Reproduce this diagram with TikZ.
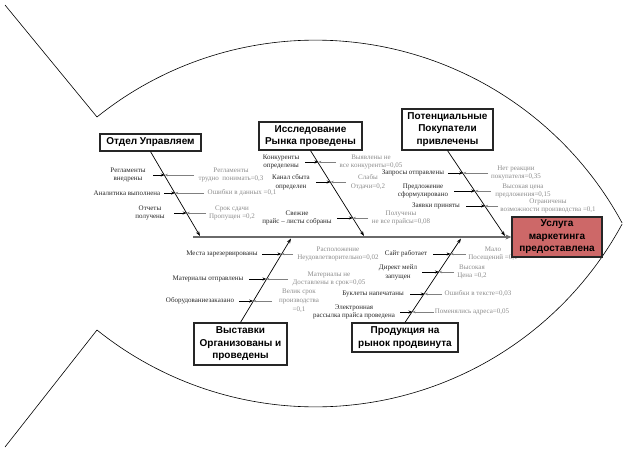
\documentclass[tikz,border=0pt]{standalone}
\usepackage{fontspec}
\setmainfont{Liberation Serif}
\newfontfamily\hd{Liberation Sans}
\usetikzlibrary{arrows.meta,calc}
\definecolor{headred}{HTML}{CD6868}
\definecolor{gtext}{HTML}{8C8C8C}
\definecolor{gline}{HTML}{808080}
\definecolor{spinec}{HTML}{6A6A6A}
\tikzset{
  fish/.style={draw=black,line width=0.6pt},
  lbl/.style={font=\fontsize{7}{8.8}\selectfont,align=center,inner sep=0pt,text=black!85},
  glbl/.style={font=\fontsize{7}{8.8}\selectfont,align=center,inner sep=0pt,text=gtext},
  cat/.style={draw=black!85,line width=1.2pt,fill=white,font=\hd\bfseries\fontsize{10}{12.5}\selectfont,align=center,inner sep=0pt},
  bone/.style={draw=black,line width=0.7pt,-{Stealth[length=5pt,width=3.5pt]}},
  blk/.style={draw=black,line width=0.8pt,-{Stealth[length=4pt,width=3pt]}},
  gry/.style={draw=gline,line width=0.6pt,-{Stealth[length=3pt,width=2.5pt]}},
  spine/.style={draw=spinec,line width=2.2pt,-{Stealth[length=6pt,width=5pt,fill=black]}},
}
\newcommand\cz[9]{%
  \node[lbl] (L#1) at (#3,#2) {#4};
  \coordinate (p#1) at (#6,#2);
  \coordinate (a#1) at (#5,#2);
  \coordinate (g#1) at (#7,#2);
  \draw[blk] (a#1) -- (p#1);
  \draw[gry] (g#1) -- (p#1);
  \node[glbl] (G#1) at (#8,#2) {#9};
}
\begin{document}
\begin{tikzpicture}[x=1pt,y=-1pt]
\useasboundingbox (0,0) rectangle (624,450);
% fish outline
\draw[fish] (5,5) -- (97,117);
\draw[fish] plot[domain=128.8:28.4,samples=90] ({315.4+348.7*cos(\x)},{388.8-348.7*sin(\x)});
\draw[fish] plot[domain=28.4:128.8,samples=90] ({315.4+348.7*cos(\x)},{58.2+348.7*sin(\x)});
\draw[fish] (97,330) -- (5,447);
% category boxes
\node[cat,minimum width=101pt,minimum height=17pt] (b1) at (150.5,142.5) {Отдел Управляем};
\node[cat,minimum width=103pt,minimum height=28pt] (b2) at (310.5,136) {Исследование\\Рынка проведены};
\node[cat,minimum width=91pt,minimum height=41pt] (b3) at (447.5,129.5) {Потенциальные\\Покупатели\\привлечены};
\node[cat,minimum width=93pt,minimum height=42pt] (b4) at (240.5,344) {Выставки\\Организованы и\\проведены};
\node[cat,minimum width=106pt,minimum height=29pt] (b5) at (405,337.5) {Продукция на\\рынок продвинута};
% bone ends
\coordinate (e1) at (200,236);
\coordinate (e2) at (364,236);
\coordinate (e3) at (505,236);
\coordinate (e4) at (291,238.5);
\coordinate (e5) at (461,238.5);
\draw[bone] (b1.south) -- (e1);
\draw[bone] (b2.south) -- (e2);
\draw[bone] (b3.south) -- (e3);
\draw[bone] (b4.north) -- (e4);
\draw[bone] (b5.north) -- (e5);
% causes bone 1
\cz{11}{175}{128}{Регламенты\\внедрены}{153}{164.8}{194}{231}{Регламенты\\трудно\ \ понимать=0,3}
\cz{12}{193}{127}{Аналитика выполнена}{164}{175.2}{204}{242}{Ошибки в данных =0,1}
\cz{13}{213}{150}{Отчеты\\получены}{174}{186.7}{206}{232}{Срок сдачи\\Пропущен =0,2}
% bone 2
\cz{21}{162}{281}{Конкуренты\\определены}{305}{318.4}{336}{371}{Выявлены не\\все конкуренты=0,05}
\cz{22}{182}{291}{Канал сбыта\\определен}{316}{330.7}{346}{368}{Слабы\\Отдачи=0,2}
\cz{23}{218}{297}{Свежие\\прайс – листы собраны}{337}{352.9}{368}{401}{Получены\\не все прайсы=0,08}
% bone 3
\cz{31}{173}{413}{Запросы отправлены}{448}{463.2}{488}{516}{Нет реакции\\покупателя=0,35}
\cz{32}{191}{423}{Предложение\\сформулировано}{454}{475.2}{491}{523}{Высокая цена\\предложения=0,15}
\cz{33}{206}{436}{Заявки приняты}{466}{485.1}{498}{548}{Ограничены\\возможности производства =0,1}
% bone 4
\cz{41}{254}{222}{Места зарезервированы}{262}{281.4}{293}{338}{Расположение\\Неудовлетворительно=0,02}
\cz{42}{279}{208}{Материалы отправлены}{249}{266.4}{288}{329}{Материалы не\\Доставлены в срок=0,05}
\cz{43}{301}{200}{Оборудованиезаказано}{239}{253.2}{272}{299}{Велик срок\\производства\\=0,1}
% bone 5
\cz{51}{254}{406}{Сайт работает}{433}{450.6}{466}{493}{Мало\\Посещений =0,1}
\cz{52}{272}{398}{Директ мейл\\запущен}{422}{439}{454}{472}{Высокая\\Цена =0,2}
\cz{53}{294}{373}{Буклеты напечатаны}{410}{424.8}{442}{478}{Ошибки в тексте=0,03}
\cz{54}{312}{354}{Электронная\\рассылка прайса проведена}{400}{412.5}{434}{472}{Поменялись адреса=0,05}
% head and spine
\node[cat,fill=headred,minimum width=90pt,minimum height=40pt] (head) at (557,237) {Услуга\\маркетинга\\предоставлена};
\coordinate (sp0) at (193,237);
\draw[spine] (sp0) -- (head.west);
\end{tikzpicture}
\end{document}
